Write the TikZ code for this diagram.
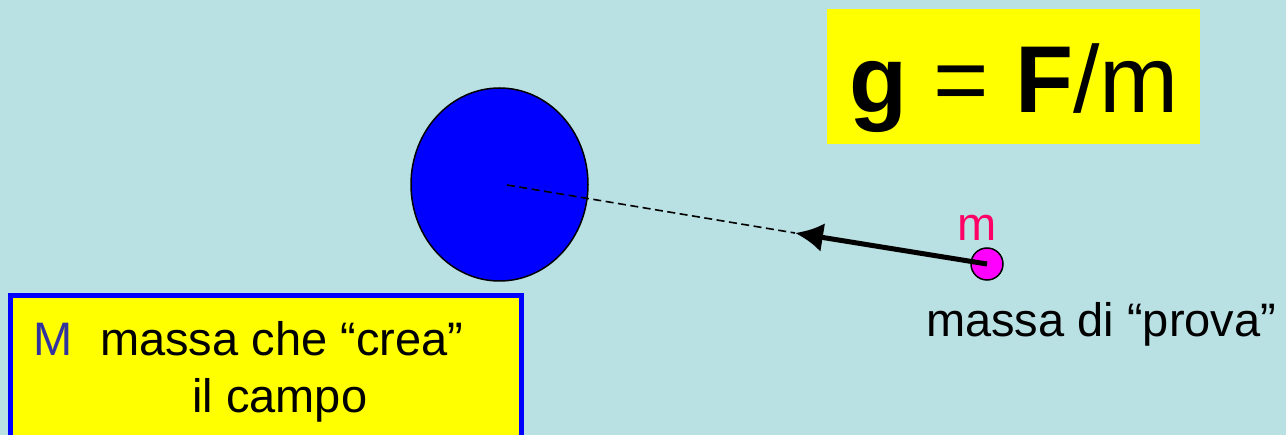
\documentclass[tikz,border=0pt]{standalone}
\usepackage{fontspec}
\setmainfont{Liberation Sans}
\usetikzlibrary{shapes.geometric,arrows.meta}
\definecolor{bg}{HTML}{B9E0E3}
\definecolor{yel}{HTML}{FFFF00}
\definecolor{bigblue}{HTML}{0000FF}
\definecolor{pinkdot}{HTML}{FF00FF}
\definecolor{pinktext}{HTML}{FF0066}
\definecolor{Mblue}{HTML}{3333A0}
\tikzset{
  txt/.style={inner sep=0pt, anchor=base west, font=\fontsize{47}{56}\selectfont},
  bigmass/.style={ellipse, draw=black, line width=1.5pt, fill=bigblue, minimum width=177pt, minimum height=193pt, inner sep=0pt},
  testmass/.style={circle, draw=black, line width=1.5pt, fill=pinkdot, minimum size=32pt, inner sep=0pt},
  force/.style={line width=5pt, -{Latex[length=28pt,width=29pt]}},
  radius/.style={line width=1.6pt, dash pattern=on 8pt off 4.5pt}
}
\begin{document}
\begin{tikzpicture}[x=1pt,y=-1pt]
\useasboundingbox (0,0) rectangle (1286,435);
\fill[bg] (0,0) rectangle (1286,435);
% formula box
\fill[yel] (827,9) rectangle (1200,144);
\node[inner sep=0pt, anchor=base west, font=\fontsize{95}{110}\selectfont] (formula) at (849,113) {\textbf{g} = \textbf{F}/m};
% source mass
\node[bigmass] (M) at (499.5,184.5) {};
\coordinate (Mc) at (507,185);
\coordinate (tip) at (795,233);
\node[testmass] (m) at (987,264) {};
\draw[radius] (Mc) -- (tip);
\draw[force] (m.center) -- (tip);
\node[txt, text=pinktext] (mlabel) at (957,241) {m};
\node[txt] (prova) at (926,337) {massa di “prova”};
% bottom-left box
\draw[line width=5pt, draw=bigblue, fill=yel] (10.5,295.5) rectangle (521.5,450);
\node[txt, text=Mblue] (Mlabel) at (33.5,356) {M};
\node[txt] (crea) at (100,356) {massa che “crea”};
\node[txt] (campo) at (192,413) {il campo};
\end{tikzpicture}
\end{document}
